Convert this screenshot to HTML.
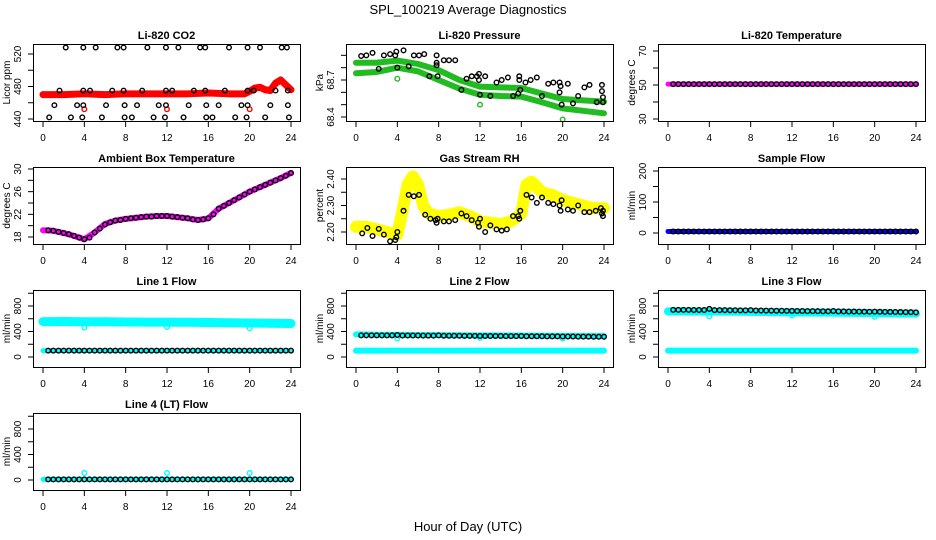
<!DOCTYPE html>
<html><head><meta charset="utf-8">
<style>
html,body{margin:0;padding:0;background:#fff;}
svg{display:block;font-family:"Liberation Sans",Arial,sans-serif;}
</style></head>
<body>
<svg id="chart" width="936" height="540" viewBox="0 0 936 540">
<text x="468" y="14" text-anchor="middle" font-size="13">SPL_100219  Average Diagnostics</text>
<text x="468" y="531" text-anchor="middle" font-size="13">Hour of Day (UTC)</text>
</svg>
<script>
const xTicks = [0,4,8,12,16,20,24];
const h48 = [0.5,1,1.5,2,2.5,3,3.5,4,4.5,5,5.5,6,6.5,7,7.5,8,8.5,9,9.5,10,10.5,11,11.5,12,12.5,13,13.5,14,14.5,15,15.5,16,16.5,17,17.5,18,18.5,19,19.5,20,20.5,21,21.5,22,22.5,23,23.5,24];
const hBand = [0,1,2,3,4,5,6,7,8,9,10,11,12,13,14,15,16,17,18,19,20,21,22,23,24];

// CO2
const co2BandX = [0,2,4,6,8,10,12,14,16,18,19.5,20,20.5,21,21.5,22,22.5,23,23.5,24];
const co2BandY = [470,470,471,470,471,471,471,471,472,471,471,474,478,479,476,475,484,488,482,476];
const co2BlkX = [2.2,3.9,5.1,7.2,7.8,10.1,11.9,13.1,15.2,15.7,18.0,19.8,21.0,23.1,23.6,
 1.6,3.9,4.55,6.7,7.8,9.6,11.9,12.5,14.6,15.7,17.6,19.8,20.4,22.5,23.7,
 1.1,3.3,3.9,6.1,7.9,9.1,11.2,11.9,14.1,15.8,17.0,19.2,19.8,22.0,23.7,
 0.6,2.7,3.8,5.7,7.9,8.6,10.7,11.8,13.6,15.8,16.4,18.6,19.7,21.5,23.8];
const co2BlkY = [528,528,528,528,528,528,528,528,528,528,528,528,528,528,528,
 475,475,475,475,475,475,475,475,475,475,475,475,475,475,475,
 457,457,457,457,457,457,457,457,457,457,457,457,457,457,457,
 442,442,442,442,442,442,442,442,442,442,442,442,442,442,442];
const co2OutX = [4,12,20];
const co2OutY = [452,452,452];

// Pressure
const presX = [0,2,4,6,8,10,12,14,16,18,20,22,24];
const presUp = [68.84,68.84,68.857,68.83,68.78,68.70,68.646,68.64,68.635,68.59,68.546,68.535,68.525];
const presLo = [68.755,68.765,68.80,68.77,68.70,68.63,68.58,68.57,68.565,68.52,68.47,68.45,68.43];
const presBlkX = [0.5,1,1.6,2.2,2.7,3.3,3.8,3.9,4,4.6,5.1,5.6,6.1,6.6,7.1,7.8,7.8,7.8,7.9,8.5,9,9.6,10.2,10.7,11.2,11.7,11.9,11.9,12,12.5,13,13.6,14.1,14.7,15.2,15.7,15.8,15.8,15.9,16.4,16.9,17.5,18,18.6,19.1,19.7,19.7,19.8,19.9,20.5,21,21.5,22.1,22.6,23.3,23.8,23.8,23.9,23.9];
const presBlkY = [68.895,68.9,68.92,68.79,68.9,68.91,68.9,68.93,68.80,68.94,68.81,68.9,68.9,68.91,68.73,68.9,68.84,68.82,68.73,68.86,68.86,68.86,68.62,68.71,68.73,68.73,68.70,68.75,68.58,68.73,68.57,68.68,68.70,68.72,68.57,68.59,68.73,68.70,68.62,68.68,68.70,68.72,68.57,68.67,68.68,68.68,68.60,68.65,68.50,68.67,68.51,68.57,68.64,68.66,68.52,68.66,68.61,68.56,68.52];
const presOutX = [4,12,20];
const presOutY = [68.71,68.50,68.38];

// Ambient temperature
const ambBand = [19.2,19.1,18.7,18.2,17.6,18.8,20.3,20.9,21.2,21.4,21.6,21.7,21.7,21.5,21.3,21.0,21.3,23.0,24.0,25.0,26.0,26.8,27.6,28.4,29.3];
const ambBlk = [19.2,19.1,18.9,18.7,18.5,18.2,17.9,17.6,17.9,18.8,19.5,20.2,20.6,20.9,21.0,21.2,21.3,21.4,21.5,21.6,21.6,21.7,21.7,21.7,21.6,21.5,21.4,21.3,21.1,21.0,21.1,21.3,22.0,23.0,23.5,24.0,24.5,25.0,25.5,26.0,26.4,26.8,27.2,27.6,28.0,28.4,28.8,29.3];

// RH
const rhBandX = [0,1,2,3,4,4.5,5,5.5,6,6.5,7,8,9,10,11,12,13,14,15,16,16.5,17,18,19,20,21,22,23,24];
const rhBandY = [2.22,2.22,2.21,2.20,2.19,2.28,2.38,2.41,2.38,2.30,2.27,2.26,2.265,2.275,2.26,2.24,2.235,2.23,2.24,2.27,2.38,2.39,2.35,2.34,2.32,2.31,2.30,2.29,2.29];
const rhBlkX = [0.6,1.1,1.6,2.2,2.7,3.3,3.8,3.9,4,4.6,5.1,5.6,6.1,6.7,7.2,7.7,7.8,7.9,8.5,9,9.6,10.2,10.7,11.2,11.8,11.9,12,12.5,13,13.6,14.1,14.6,15.2,15.7,15.8,15.9,16.5,17,17.5,18,18.6,19.1,19.7,19.8,19.9,20.5,21,21.5,22.1,22.6,23.2,23.7,23.8,23.9,23.9];
const rhBlkY = [2.195,2.215,2.185,2.212,2.19,2.165,2.17,2.18,2.20,2.28,2.34,2.335,2.34,2.265,2.25,2.245,2.235,2.25,2.24,2.24,2.245,2.27,2.26,2.245,2.235,2.22,2.25,2.20,2.225,2.21,2.205,2.21,2.26,2.26,2.25,2.28,2.34,2.33,2.31,2.33,2.31,2.305,2.30,2.28,2.32,2.285,2.28,2.30,2.275,2.275,2.28,2.29,2.27,2.26,2.28];

// Flat series
const tempBand = [50.5,50.5,50.5,50.5,50.5,50.5,50.5,50.5,50.5,50.5,50.5,50.5,50.5,50.5,50.5,50.5,50.5,50.5,50.5,50.5,50.5,50.5,50.5,50.5,50.5];
const sampBand = [5,5,5,5,5,5,5,5,5,5,5,5,5,5,5,5,5,5,5,5,5,5,5,5,5];
const l1Upper = [555,555,556,554,553,552,552,551,550,549,548,548,547,546,545,543,542,540,538,536,534,532,530,528,526];
const lowFlow = [100,100,100,100,100,100,100,100,100,100,100,100,100,100,100,100,100,100,100,100,100,100,100,100,100];
const l2Upper = [355,352,350,350,348,348,346,345,344,342,341,340,340,339,338,337,336,335,334,333,332,331,330,330,330];
const l3Upper = [715,715,714,714,713,712,711,710,708,706,704,702,700,699,698,697,696,694,692,690,688,686,684,682,680];
const l4Band = [10,10,10,10,10,10,10,10,10,10,10,10,10,10,10,10,10,10,10,10,10,10,10,10,10];
const flowOutX = [4,12,20];
const l1OutY = [460,470,450];
const l4OutY = [110,110,110];
const l3OutY = [640,650,630];
const l2OutY = [290,300,290];
const blkTemp = [50.5,50.5,50.5,50.5,50.5,50.5,50.5,50.5,50.5,50.5,50.5,50.5,50.5,50.5,50.5,50.5,50.5,50.5,50.5,50.5,50.5,50.5,50.5,50.5,50.5,50.5,50.5,50.5,50.5,50.5,50.5,50.5,50.5,50.5,50.5,50.5,50.5,50.5,50.5,50.5,50.5,50.5,50.5,50.5,50.5,50.5,50.5,50.5];
const blkSamp = [5,5,5,5,5,5,5,5,5,5,5,5,5,5,5,5,5,5,5,5,5,5,5,5,5,5,5,5,5,5,5,5,5,5,5,5,5,5,5,5,5,5,5,5,5,5,5,5];
const blkL1 = [100,100,100,100,100,100,100,100,100,100,100,100,100,100,100,100,100,100,100,100,100,100,100,100,100,100,100,100,100,100,100,100,100,100,100,100,100,100,100,100,100,100,100,100,100,100,100,100];
const blkL2 = [340,340,340,340,339,339,340,345,338,338,337,337,336,336,335,340,334,334,333,333,332,332,331,330,330,330,329,329,328,328,327,330,326,326,325,325,324,324,323,322,321,321,320,320,319,318,318,318];
const blkL3 = [740,740,739,739,738,738,737,755,736,735,735,734,733,732,731,735,730,729,728,727,726,725,724,723,722,721,720,720,719,718,717,722,716,715,714,713,712,711,710,712,709,708,707,706,705,704,703,700];
const blkL4 = [10,10,10,10,10,10,10,10,10,10,10,10,10,10,10,10,10,10,10,10,10,10,10,10,10,10,10,10,10,10,10,10,10,10,10,10,10,10,10,10,10,10,10,10,10,10,10,10];

const NS = 'http://www.w3.org/2000/svg';
const svg = document.getElementById('chart');
function mk(tag, attrs, parent){ const e=document.createElementNS(NS,tag); for(const k in attrs) e.setAttribute(k,attrs[k]); (parent||svg).appendChild(e); return e; }

const colL = [33,346,658];
const rowT = [44,167,290,413];
const BW = 267, BH = 77;

function panel(o){
  const L = colL[o.col], T = rowT[o.row];
  const g = mk('g',{});
  
  
  const xs = h => L + 10 + h * (248/24);
  // linear y map from two reference values (va at offset pa, vb at offset pb)
  const ys = v => T + o.pa + (v - o.va) * (o.pb - o.pa) / (o.vb - o.va);
  const t = mk('text',{x:L+BW/2,y:T-5,'text-anchor':'middle','font-size':11,'font-weight':'bold'},g);
  t.textContent = o.title;
  
  
  const clip = mk('clipPath',{id:'c'+o.name},g);
  mk('rect',{x:L,y:T,width:BW,height:BH},clip);
  const pg = mk('g',{'clip-path':'url(#c'+o.name+')'},g);
  o.draw(pg, xs, ys);
  const box = mk('rect',{x:L+0.5,y:T+0.5,width:BW,height:BH,fill:'none',stroke:'#000','stroke-width':1},g);
  
  
  const xa = mk('g',{},g);
  
  
  xTicks.forEach(v=>{
    mk('line',{x1:xs(v),x2:xs(v),y1:T+BH,y2:T+BH+6,stroke:'#000'},xa);
    const tx = mk('text',{x:xs(v),y:T+BH+20,'text-anchor':'middle','font-size':10},xa);
    tx.textContent = v;
  });
  const ya = mk('g',{},g);
  
  
  o.ticks.forEach(v=>{
    mk('line',{x1:L-5,x2:L,y1:ys(v),y2:ys(v),stroke:'#000'},ya);
  });
  o.labels.forEach(v=>{
    const tx = mk('text',{x:0,y:0,'text-anchor':'middle','font-size':10,transform:`translate(${L-12},${ys(v)}) rotate(-90)`},ya);
    tx.textContent = o.fmt ? o.fmt(v) : v;
  });
  const yt = mk('text',{x:0,y:0,'text-anchor':'middle','font-size':10,transform:`translate(${L-23},${T+BH/2}) rotate(-90)`},ya);
  yt.textContent = o.ylab;
  
  
}

function band(g, xs, ys, X, Y, color, w, name){
  const p = mk('polyline',{points:X.map((x,i)=>xs(x)+','+ys(Y[i])).join(' '),fill:'none',stroke:color,'stroke-width':w,'stroke-linejoin':'round','stroke-linecap':'round'},g);
  
  
}
function pts(g, xs, ys, X, Y, color, name, r){
  const gg = mk('g',{},g);
  
  
  X.forEach((x,i)=>{
    mk('circle',{cx:xs(x),cy:ys(Y[i]),r:r||2.3,fill:'none',stroke:color,'stroke-width':1.4},gg);
  });
}

panel({name:'co2-panel',title:'Li-820 CO2',col:0,row:0,va:440,pa:75,vb:520,pb:10,ticks:[440,460,480,500,520],labels:[440,480,520],ylab:'Licor ppm',
  draw:(g,xs,ys)=>{ band(g,xs,ys,co2BandX,co2BandY,'#ff0000',7,'co2-band'); pts(g,xs,ys,co2OutX,co2OutY,'#ff0000','co2-outliers'); pts(g,xs,ys,co2BlkX,co2BlkY,'#000','co2-hourly-points'); }});
panel({name:'pressure-panel',title:'Li-820 Pressure',col:1,row:0,va:68.4,pa:73,vb:68.7,pb:36,ticks:[68.4,68.5,68.6,68.7,68.8,68.9],labels:[68.4,68.7],ylab:'kPa',fmt:v=>v.toFixed(1),
  draw:(g,xs,ys)=>{ band(g,xs,ys,presX,presUp,'#22bb22',6,'pressure-band-upper'); band(g,xs,ys,presX,presLo,'#22bb22',6,'pressure-band-lower'); pts(g,xs,ys,presOutX,presOutY,'#22bb22','pressure-outliers'); pts(g,xs,ys,presBlkX,presBlkY,'#000','pressure-hourly-points'); }});
panel({name:'temperature-panel',title:'Li-820 Temperature',col:2,row:0,va:30,pa:75,vb:70,pb:7,ticks:[30,40,50,60,70],labels:[30,50,70],ylab:'degrees C',
  draw:(g,xs,ys)=>{ band(g,xs,ys,hBand,tempBand,'#ff00ff',5,'temperature-band'); pts(g,xs,ys,h48,blkTemp,'#000','temperature-hourly-points'); }});
panel({name:'ambient-panel',title:'Ambient Box Temperature',col:0,row:1,va:18,pa:70,vb:30,pb:2,ticks:[18,20,22,24,26,28,30],labels:[18,22,26,30],ylab:'degrees C',
  draw:(g,xs,ys)=>{ band(g,xs,ys,hBand,ambBand,'#ff00ff',6,'ambient-band'); pts(g,xs,ys,h48,ambBlk,'#000','ambient-hourly-points'); }});
panel({name:'rh-panel',title:'Gas Stream RH',col:1,row:1,va:2.20,pa:65,vb:2.40,pb:12,ticks:[2.20,2.25,2.30,2.35,2.40],labels:[2.20,2.30,2.40],ylab:'percent',fmt:v=>v.toFixed(2),
  draw:(g,xs,ys)=>{ band(g,xs,ys,rhBandX,rhBandY,'#ffff00',12,'rh-band'); pts(g,xs,ys,rhBlkX,rhBlkY,'#000','rh-hourly-points'); }});
panel({name:'sample-flow-panel',title:'Sample Flow',col:2,row:1,va:0,pa:66,vb:200,pb:4,ticks:[0,50,100,150,200],labels:[0,100,200],ylab:'ml/min',
  draw:(g,xs,ys)=>{ band(g,xs,ys,hBand,sampBand,'#0000ff',5,'sample-flow-band'); pts(g,xs,ys,h48,blkSamp,'#000','sample-flow-hourly-points'); }});
panel({name:'line1-panel',title:'Line 1 Flow',col:0,row:2,va:0,pa:67,vb:800,pb:16,ticks:[0,200,400,600,800,1000],labels:[0,400,800],ylab:'ml/min',
  draw:(g,xs,ys)=>{ band(g,xs,ys,hBand,l1Upper,'#00ffff',9,'line1-upper-band'); band(g,xs,ys,hBand,lowFlow,'#00ffff',5,'line1-lower-band'); pts(g,xs,ys,flowOutX,l1OutY,'#00ffff','line1-outliers'); pts(g,xs,ys,h48,blkL1,'#000','line1-hourly-points'); }});
panel({name:'line2-panel',title:'Line 2 Flow',col:1,row:2,va:0,pa:67,vb:800,pb:16,ticks:[0,200,400,600,800,1000],labels:[0,400,800],ylab:'ml/min',
  draw:(g,xs,ys)=>{ band(g,xs,ys,hBand,l2Upper,'#00ffff',6,'line2-upper-band'); band(g,xs,ys,hBand,lowFlow,'#00ffff',6,'line2-lower-band'); pts(g,xs,ys,flowOutX,l2OutY,'#00ffff','line2-outliers'); pts(g,xs,ys,h48,blkL2,'#000','line2-hourly-points'); }});
panel({name:'line3-panel',title:'Line 3 Flow',col:2,row:2,va:0,pa:67,vb:800,pb:16,ticks:[0,200,400,600,800,1000],labels:[0,400,800],ylab:'ml/min',
  draw:(g,xs,ys)=>{ band(g,xs,ys,hBand,l3Upper,'#00ffff',8,'line3-upper-band'); band(g,xs,ys,hBand,lowFlow,'#00ffff',6,'line3-lower-band'); pts(g,xs,ys,flowOutX,l3OutY,'#00ffff','line3-outliers'); pts(g,xs,ys,h48,blkL3,'#000','line3-hourly-points'); }});
panel({name:'line4-panel',title:'Line 4 (LT) Flow',col:0,row:3,va:0,pa:67,vb:800,pb:16,ticks:[0,200,400,600,800,1000],labels:[0,400,800],ylab:'ml/min',
  draw:(g,xs,ys)=>{ band(g,xs,ys,hBand,l4Band,'#00ffff',5,'line4-band'); pts(g,xs,ys,flowOutX,l4OutY,'#00ffff','line4-outliers'); pts(g,xs,ys,h48,blkL4,'#000','line4-hourly-points'); }});
</script>
</body></html>
